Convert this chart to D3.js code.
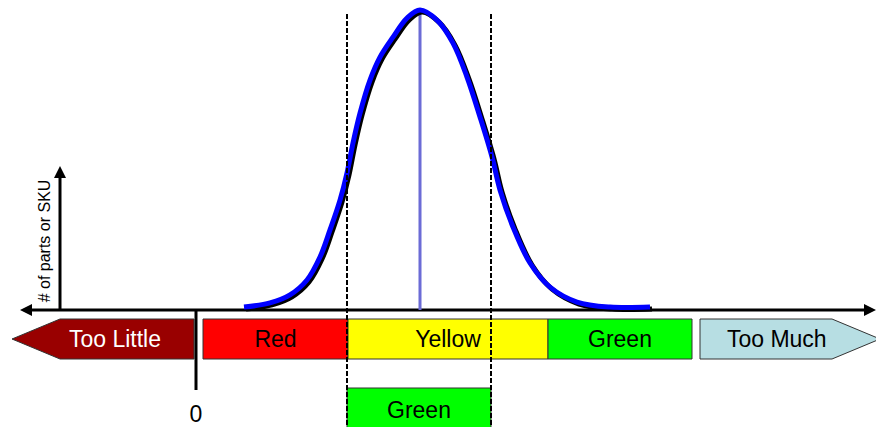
<!DOCTYPE html>
<html>
<head>
<meta charset="utf-8">
<script src="https://cdn.jsdelivr.net/npm/d3@7"></script>
<style>
  body { margin: 0; background: #fff; }
  svg { display: block; font-family: "Liberation Sans", Arial, sans-serif; }
</style>
</head>
<body>
<div id="chart"></div>
<script>
// inventory level (x) vs number of parts (y)
var curveX = [12, 18.5, 23.5, 27.75, 31, 33.5, 36, 37.75, 39.25, 41, 43.5, 46, 49.25, 52.75, 56,
              60.25, 64.25, 67.75, 71, 74, 76, 79.25, 83.5, 88.5, 95.25, 103.5, 113.5];
var curveY = [0.3, 1.7, 4.4, 9.4, 17.1, 26.2, 36.2, 45.3, 55.4, 65.4, 76.5, 84.2, 90.9, 97.3, 100,
              96.6, 88.9, 77.5, 64.1, 50.7, 39.6, 27.2, 15.1, 7.0, 2.0, 0.3, 0.3];

var bandNames = ["Too Little", "Red", "Yellow", "Green", "Too Much"];
var bandStart = [-46, 1.75, 38, 88, 126];
var bandEnd = [-0.5, 38, 88, 124, 171];

var meanLevel = 56;
var targetLow = 37.75;
var targetHigh = 73.75;
var targetLabel = "Green";
var zeroLabel = "0";
var yLabel = "# of parts or SKU";

var colors = {"Too Little": "#990000", "Red": "#ff0000", "Yellow": "#ffff00", "Green": "#00ff00", "Too Much": "#b7dee3"};
var textColors = {"Too Little": "#fff"};

var W = 876, H = 427;
var svg = d3.select("#chart").append("svg").attr("width", W).attr("height", H);

// 0 sits at px 196, 4px per unit
var x = d3.scaleLinear().domain([0, 170]).range([196, 876]);
var y = d3.scaleLinear().domain([0, 100]).range([308, 10]);

var axisY = 310, bandTop = 319, bandH = 40;

// bands
var tip = 48;
function bandPath(i) {
  var x0 = x(bandStart[i]), x1 = x(bandEnd[i]), t = bandTop, b = bandTop + bandH, m = bandTop + bandH / 2;
  if (i == 0) return "M" + x0 + "," + m + "L" + (x0 + tip) + "," + t + "L" + x1 + "," + t + "L" + x1 + "," + b + "L" + (x0 + tip) + "," + b + "Z";
  if (i == bandNames.length - 1) return "M" + x0 + "," + t + "L" + (x1 - tip) + "," + t + "L" + x1 + "," + m + "L" + (x1 - tip) + "," + b + "L" + x0 + "," + b + "Z";
  return "M" + x0 + "," + t + "H" + x1 + "V" + b + "H" + x0 + "Z";
}
svg.selectAll(".band").data(bandNames).enter().append("path")
  .attr("class", "band")
  .attr("d", function(d, i) { return bandPath(i); })
  .attr("fill", function(d) { return colors[d]; })
  .attr("stroke", "#333").attr("stroke-width", 1);

svg.selectAll(".bandLabel").data(bandNames).enter().append("text")
  .attr("class", "bandLabel")
  .attr("x", function(d, i) {
    var a = x(bandStart[i]), b = x(bandEnd[i]);
    if (i == 0) a += tip * 0.5;
    if (i == bandNames.length - 1) b -= tip * 0.55;
    return (a + b) / 2;
  })
  .attr("y", bandTop + bandH / 2 + 8)
  .attr("text-anchor", "middle")
  .attr("font-size", 23)
  .attr("fill", function(d) { return textColors[d] || "#000"; })
  .text(function(d) { return d; });

// target box below
svg.append("rect")
  .attr("x", x(targetLow)).attr("y", 388)
  .attr("width", x(targetHigh) - x(targetLow)).attr("height", 45)
  .attr("fill", colors["Green"]).attr("stroke", "#333").attr("stroke-width", 1);
svg.append("text")
  .attr("x", (x(targetLow) + x(targetHigh)) / 2).attr("y", 418)
  .attr("text-anchor", "middle").attr("font-size", 23)
  .text(targetLabel);

// axes
svg.append("line").attr("x1", 30).attr("x2", 866).attr("y1", axisY).attr("y2", axisY)
  .attr("stroke", "#000").attr("stroke-width", 3);
svg.append("path").attr("d", "M20," + axisY + "L32," + (axisY - 6) + "L32," + (axisY + 6) + "Z").attr("fill", "#000");
svg.append("path").attr("d", "M876," + axisY + "L864," + (axisY - 6) + "L864," + (axisY + 6) + "Z").attr("fill", "#000");

var yAxisX = 60;
svg.append("line").attr("x1", yAxisX).attr("x2", yAxisX).attr("y1", axisY).attr("y2", 176)
  .attr("stroke", "#000").attr("stroke-width", 3);
svg.append("path").attr("d", "M" + yAxisX + ",166L" + (yAxisX - 6) + ",178L" + (yAxisX + 6) + ",178Z").attr("fill", "#000");
svg.append("text")
  .attr("transform", "translate(50,241) rotate(-90)")
  .attr("text-anchor", "middle").attr("font-size", 16)
  .text(yLabel);

// zero marker
svg.append("line").attr("x1", x(0)).attr("x2", x(0)).attr("y1", axisY).attr("y2", 390)
  .attr("stroke", "#000").attr("stroke-width", 3);
svg.append("text").attr("x", x(0)).attr("y", 422).attr("text-anchor", "middle")
  .attr("font-size", 23).text(zeroLabel);

// mean line
svg.append("line").attr("x1", x(meanLevel)).attr("x2", x(meanLevel)).attr("y1", y(99)).attr("y2", axisY)
  .attr("stroke", "#6b6bd6").attr("stroke-width", 3);

// distribution curve with shadow
var pts = curveX.map(function(d, i) { return [d, curveY[i]]; });
var line = d3.line().x(function(d) { return x(d[0]); }).y(function(d) { return y(d[1]); }).curve(d3.curveCatmullRom);
svg.append("path").attr("d", line(pts)).attr("fill", "none")
  .attr("stroke", "#000").attr("stroke-width", 5).attr("transform", "translate(2,2)");
svg.append("path").attr("d", line(pts)).attr("fill", "none")
  .attr("stroke", "#0000ff").attr("stroke-width", 5);

// target range dashed lines
svg.selectAll(".target").data([targetLow, targetHigh]).enter().append("line")
  .attr("x1", function(d) { return x(d); }).attr("x2", function(d) { return x(d); })
  .attr("y1", 14).attr("y2", H)
  .attr("stroke", "#000").attr("stroke-width", 2).attr("stroke-dasharray", "5,2");
</script>
</body>
</html>
